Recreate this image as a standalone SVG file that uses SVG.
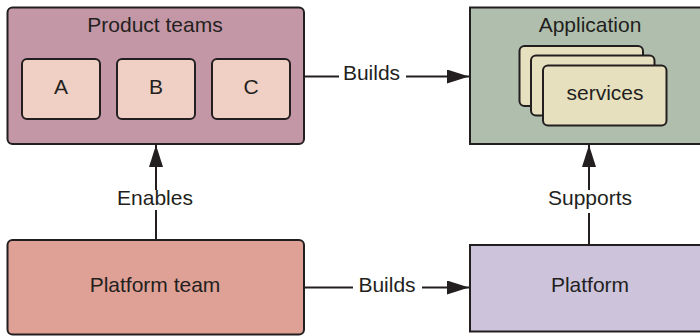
<svg xmlns="http://www.w3.org/2000/svg" width="700" height="336" viewBox="0 0 700 336">
<defs>
<style>
.box{stroke:#231f20;stroke-width:2}
.t{font-family:"Liberation Sans",Arial,sans-serif;font-size:21px;fill:#231f20;text-anchor:middle}
.ln{stroke:#231f20;stroke-width:2;fill:none}
</style>
<marker id="ah" viewBox="0 0 22 14" refX="22" refY="7" markerWidth="22" markerHeight="14" markerUnits="userSpaceOnUse" orient="auto">
<path d="M0,0 L22,7 L0,14 Z" fill="#231f20"/>
</marker>
</defs>
<rect width="700" height="336" fill="#ffffff"/>
<g id="product-teams">
<rect class="box" x="7.5" y="7.5" width="296.5" height="136.5" rx="5" fill="#c497a6"/>
<text class="t" x="155" y="32">Product teams</text>
</g>
<g id="team-a">
<rect class="box" x="22" y="59" width="78" height="60" rx="5" fill="#f0cfc4"/>
<text class="t" x="61" y="94">A</text>
</g>
<g id="team-b">
<rect class="box" x="117" y="59" width="78" height="60" rx="5" fill="#f0cfc4"/>
<text class="t" x="156" y="94">B</text>
</g>
<g id="team-c">
<rect class="box" x="212" y="59" width="78" height="60" rx="5" fill="#f0cfc4"/>
<text class="t" x="251" y="94">C</text>
</g>
<g id="application">
<rect class="box" x="470" y="7.5" width="240" height="136.5" fill="#b0bfad"/>
<text class="t" x="590" y="32">Application</text>
</g>
<g id="services">
<rect class="box" x="519.5" y="46" width="123.5" height="60" rx="5" fill="#e6e0bf"/>
<rect class="box" x="531" y="55.5" width="123.5" height="60" rx="5" fill="#e6e0bf"/>
<rect class="box" x="543" y="65.5" width="123.5" height="60" rx="5" fill="#e6e0bf"/>
<text class="t" x="605" y="100">services</text>
</g>
<g id="platform-team">
<rect class="box" x="7.5" y="240" width="296.5" height="94.5" rx="5" fill="#dfa095"/>
<text class="t" x="155" y="292">Platform team</text>
</g>
<g id="platform">
<rect class="box" x="470" y="245" width="240" height="86.5" fill="#cdc4db"/>
<text class="t" x="590" y="292">Platform</text>
</g>
<g id="connectors">
<line class="ln" x1="304" y1="76.5" x2="339" y2="76.5"/>
<line class="ln" x1="406" y1="76.5" x2="469" y2="76.5" marker-end="url(#ah)"/>
<text class="t" x="371.5" y="80">Builds</text>
<line class="ln" x1="304" y1="287.5" x2="353" y2="287.5"/>
<line class="ln" x1="422" y1="287.5" x2="469" y2="287.5" marker-end="url(#ah)"/>
<text class="t" x="387" y="292">Builds</text>
<line class="ln" x1="156" y1="240" x2="156" y2="210"/>
<line class="ln" x1="156" y1="190" x2="156" y2="145" marker-end="url(#ah)"/>
<text class="t" x="155" y="205">Enables</text>
<line class="ln" x1="589" y1="245" x2="589" y2="213"/>
<line class="ln" x1="589" y1="190" x2="589" y2="145" marker-end="url(#ah)"/>
<text class="t" x="590" y="205">Supports</text>
</g>
</svg>
